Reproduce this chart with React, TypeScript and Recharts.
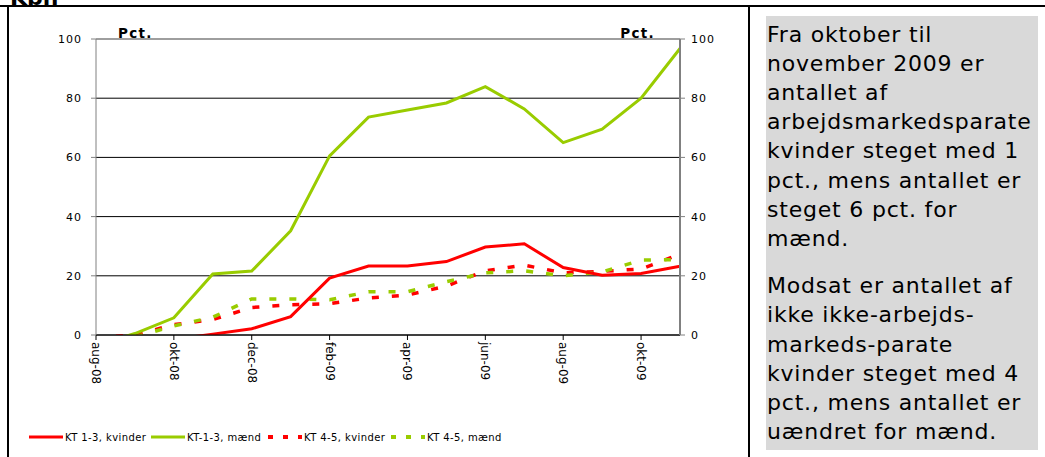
import React from 'react';
import { LineChart, Line, XAxis, YAxis, CartesianGrid, ReferenceLine } from 'recharts';

// months on the x axis (every second one is labelled)
const months = [
  'aug-08', 'sep-08', 'okt-08', 'nov-08', 'dec-08', 'jan-09', 'feb-09', 'mar-09',
  'apr-09', 'maj-09', 'jun-09', 'jul-09', 'aug-09', 'sep-09', 'okt-09', 'nov-09',
];

// Pct. values (values below 0 are hidden by the axis)
const kt13Kvinder = [-6, -4.5, -1.5, 0.3, 2.1, 6.2, 19.2, 23.3, 23.3, 24.8, 29.7, 30.8, 22.8, 20.2, 20.8, 23.2];
const kt13Maend = [-3.5, 0.5, 5.8, 20.6, 21.6, 35.2, 60.5, 73.6, 76, 78.4, 83.9, 76.4, 65, 69.5, 80, 96.8];
const kt45Kvinder = [-0.8, 0, 3.5, 5.2, 9.3, 10.2, 10.6, 12.5, 13.5, 16.5, 21.7, 23.6, 21, 21.5, 22.3, 27.3];
const kt45Maend = [-1, -0.7, 3.1, 6, 12.2, 12.2, 11.9, 14.6, 14.6, 18, 21, 21.7, 20, 21.3, 25.3, 25.5];

const yTicks = [0, 20, 40, 60, 80, 100];

const RED = '#ff0000';
const GREEN = '#99cc00';
const FONT = '"DejaVu Sans", Verdana, sans-serif';

const data = months.map((m, i) => ({
  month: m,
  kt13k: kt13Kvinder[i],
  kt13m: kt13Maend[i],
  kt45k: kt45Kvinder[i],
  kt45m: kt45Maend[i],
}));

const legendItems = [
  { name: 'KT 1-3, kvinder', color: RED, dashed: false, left: 29 },
  { name: 'KT-1-3, mænd', color: GREEN, dashed: false, left: 151 },
  { name: 'KT 4-5, kvinder', color: RED, dashed: true, left: 268 },
  { name: 'KT 4-5, mænd', color: GREEN, dashed: true, left: 391 },
];

const textPara1 = [
  'Fra oktober til',
  'november 2009 er',
  'antallet af',
  'arbejdsmarkedsparate',
  'kvinder steget med 1',
  'pct., mens antallet er',
  'steget 6 pct. for',
  'mænd.',
];
const textPara2 = [
  'Modsat er antallet af',
  'ikke ikke-arbejds-',
  'markeds-parate',
  'kvinder steget med 4',
  'pct., mens antallet er',
  'uændret for mænd.',
];

const XTick = (props: any) => {
  const { x, y, payload } = props;
  return (
    <text
      x={0}
      y={0}
      transform={`translate(${x},${y}) rotate(90)`}
      textAnchor="start"
      dominantBaseline="central"
      fontSize={12}
      fill="#000"
    >
      {payload.value}
    </text>
  );
};

const pctLabel = (side: 'left' | 'right') => (props: any) => {
  const vb = props.viewBox;
  const x = side === 'left' ? vb.x + vb.width + 22 : vb.x - 25;
  return (
    <text
      x={x}
      y={vb.y - 1}
      textAnchor={side === 'left' ? 'start' : 'end'}
      fontSize={13.5}
      fontWeight="bold"
      letterSpacing={1.3}
      fill="#000"
    >
      Pct.
    </text>
  );
};

const tickStyle = { fill: '#000', fontSize: 11, letterSpacing: 1 };

const App: React.FC = () => {
  return (
    <div style={{ position: 'absolute', left: 0, top: 0, width: 1045, height: 457, overflow: 'hidden', fontFamily: FONT, background: '#fff' }}>
      {/* title cut off at the top */}
      <div style={{ position: 'absolute', left: 10, top: -13, fontSize: 22, lineHeight: '22px', fontWeight: 'bold' }}>Kbh</div>

      {/* table borders */}
      <div style={{ position: 'absolute', left: 0, top: 5, width: 1045, height: 2, background: '#000' }} />
      <div style={{ position: 'absolute', left: 7, top: 5, width: 2, height: 452, background: '#000' }} />
      <div style={{ position: 'absolute', left: 748, top: 5, width: 2, height: 452, background: '#000' }} />

      <div style={{ position: 'absolute', left: 0, top: 0 }}>
        <LineChart width={740} height={457} data={data} margin={{ top: 39, left: 56, right: 20, bottom: 72 }}>
          <CartesianGrid yAxisId="left" vertical={false} stroke="#000" />
          <ReferenceLine yAxisId="left" y={100} stroke="#bdbdbd" />
          <XAxis
            dataKey="month"
            interval={1}
            height={50}
            tickSize={5}
            tick={<XTick />}
            axisLine={{ stroke: '#000' }}
            tickLine={{ stroke: '#000' }}
          />
          <YAxis
            yAxisId="left"
            width={40}
            domain={[0, 100]}
            ticks={yTicks}
            allowDataOverflow
            tickSize={5}
            tickMargin={9}
            tick={tickStyle}
            axisLine={{ stroke: '#808080' }}
            tickLine={{ stroke: '#808080' }}
            label={{ content: pctLabel('left') } as any}
          />
          <YAxis
            yAxisId="right"
            orientation="right"
            width={40}
            domain={[0, 100]}
            ticks={yTicks}
            allowDataOverflow
            tickSize={5}
            tickMargin={6}
            tick={tickStyle}
            axisLine={{ stroke: '#808080', strokeWidth: 2 }}
            tickLine={{ stroke: '#808080' }}
            label={{ content: pctLabel('right') } as any}
          />
          <Line yAxisId="left" dataKey="kt45k" stroke={RED} strokeWidth={3.5} strokeDasharray="7 13" dot={false} isAnimationActive={false} />
          <Line yAxisId="left" dataKey="kt45m" stroke={GREEN} strokeWidth={3.5} strokeDasharray="7 13" dot={false} isAnimationActive={false} />
          <Line yAxisId="left" dataKey="kt13k" stroke={RED} strokeWidth={3} dot={false} isAnimationActive={false} />
          <Line yAxisId="left" dataKey="kt13m" stroke={GREEN} strokeWidth={3} dot={false} isAnimationActive={false} />
        </LineChart>
      </div>

      {/* legend */}
      {legendItems.map((item) => (
        <div key={item.name} style={{ position: 'absolute', left: item.left, top: 430, height: 14, display: 'flex', alignItems: 'center', fontSize: 10, letterSpacing: 0.4, whiteSpace: 'nowrap' }}>
          <svg width={34} height={10} style={{ marginRight: 2 }}>
            <line
              x1={0}
              y1={5}
              x2={34}
              y2={5}
              stroke={item.color}
              strokeWidth={item.dashed ? 4 : 3}
              strokeDasharray={item.dashed ? '5 10' : undefined}
            />
          </svg>
          <span>{item.name}</span>
        </div>
      ))}

      {/* comment box */}
      <div
        style={{
          position: 'absolute',
          left: 766,
          top: 16,
          width: 272,
          height: 434,
          boxSizing: 'border-box',
          background: '#d9d9d9',
          padding: '3.5px 0 0 1px',
          fontSize: 22,
          letterSpacing: 0.8,
          lineHeight: '29.2px',
          color: '#000',
          whiteSpace: 'nowrap',
        }}
      >
        {textPara1.map((t) => (
          <div key={t}>{t}</div>
        ))}
        <div style={{ height: 18 }} />
        {textPara2.map((t) => (
          <div key={t}>{t}</div>
        ))}
      </div>
    </div>
  );
};

export default App;
